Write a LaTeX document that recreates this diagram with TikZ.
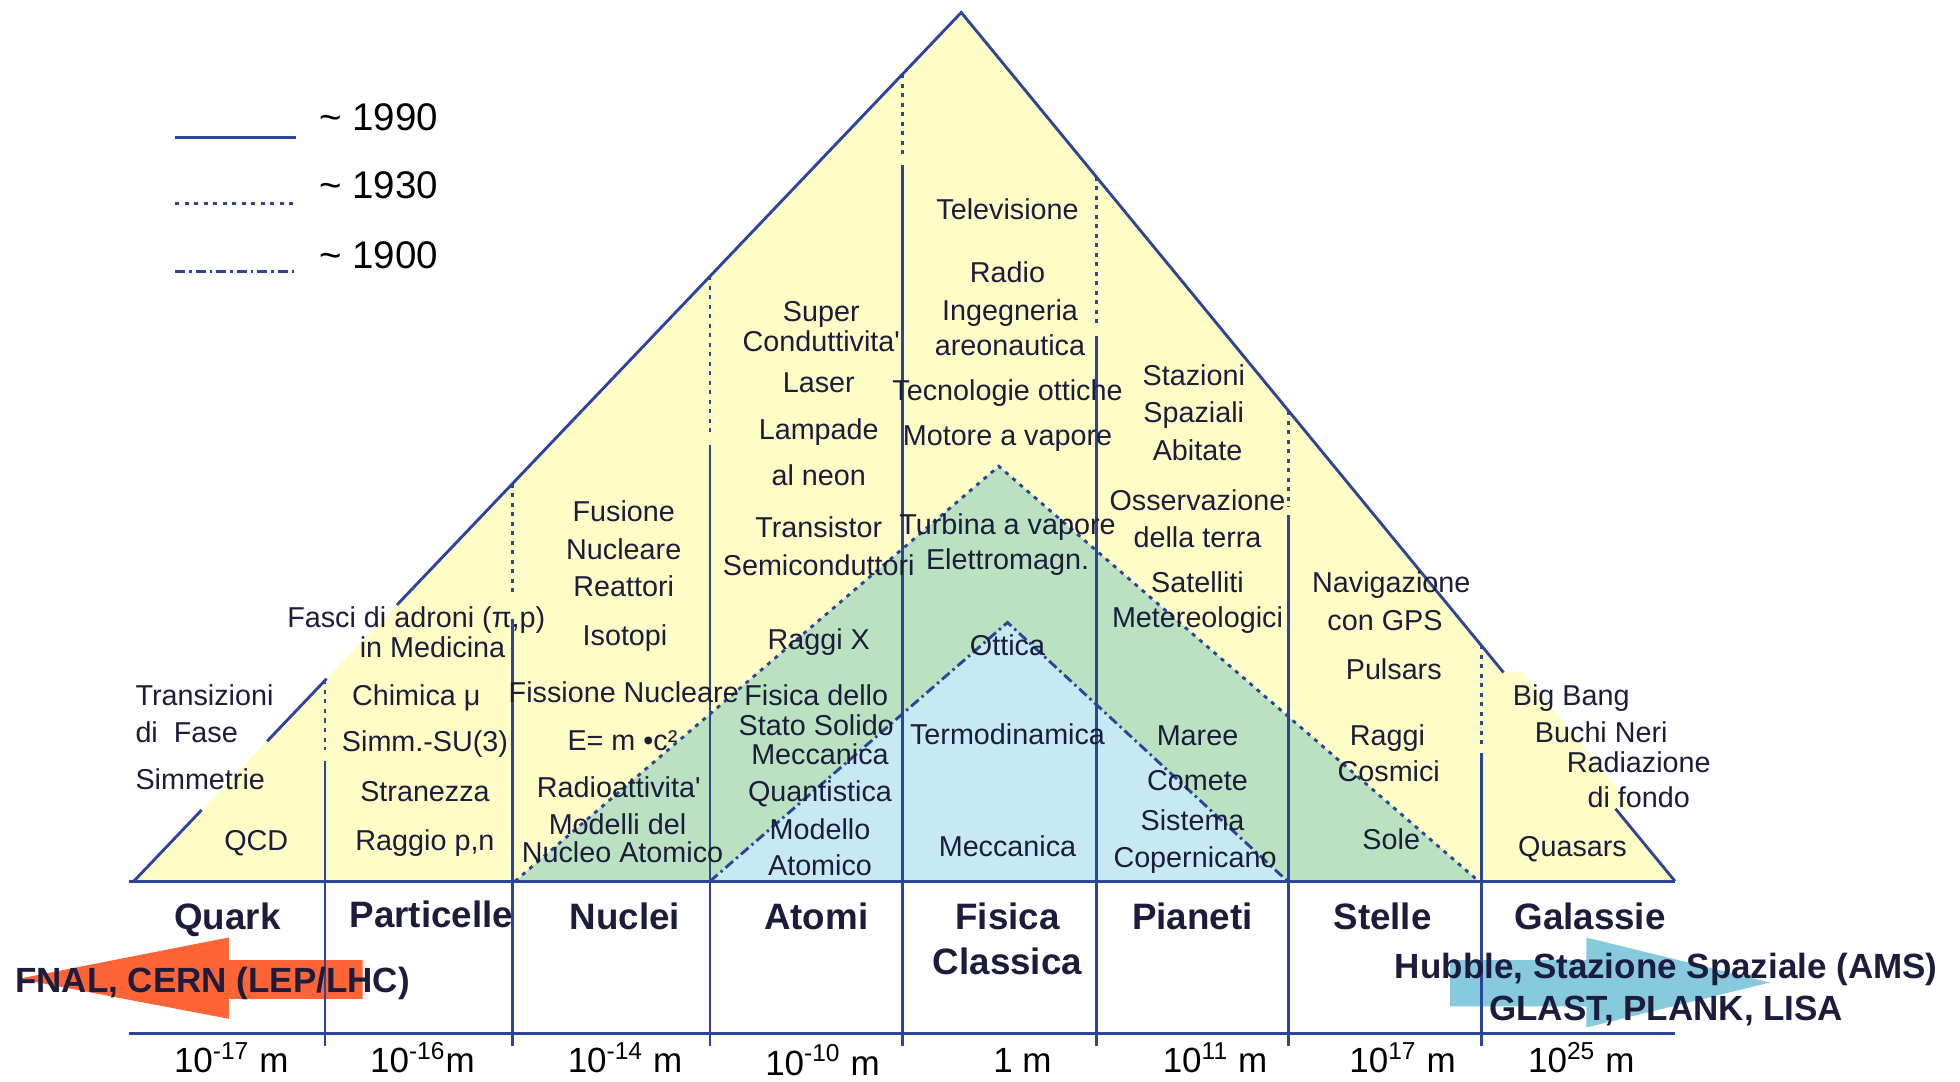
\documentclass[tikz,border=0pt]{standalone}
\usepackage{fontspec}
\setmainfont[Ligatures=TeXOff]{Liberation Sans}
\definecolor{ly}{RGB}{255,253,198}
\definecolor{lg}{RGB}{186,226,192}
\definecolor{lb}{RGB}{199,233,243}
\definecolor{ln}{RGB}{45,68,155}
\definecolor{tx}{RGB}{28,28,60}
\definecolor{arrred}{RGB}{255,100,55}
\definecolor{arrblue}{RGB}{135,202,222}
\begin{document}
\begin{tikzpicture}[x=0.5pt,y=-0.5pt,
  solidln/.style={draw=ln,line width=1.15pt},
  dotln/.style={draw=ln,line width=1.15pt,dash pattern=on 1.6pt off 2.2pt},
  dashdotln/.style={draw=ln,line width=1.15pt,dash pattern=on 4pt off 1.6pt on 1pt off 1.6pt},
  lab/.style={inner sep=0pt,text height=8.3pt,text depth=0pt,text=tx,font=\fontsize{11.5}{13}\selectfont},
  big/.style={inner sep=0pt,text height=10.6pt,text depth=0pt,text=tx,font=\fontsize{14.7}{17}\selectfont\bfseries},
  scl/.style={inner sep=0pt,text height=10pt,text depth=0pt,text=black,font=\fontsize{14}{16}\selectfont},
  leglbl/.style={inner sep=0pt,text height=11.1pt,text depth=0pt,text=black,font=\fontsize{15.4}{18}\selectfont,anchor=west},
  atxt/.style={inner sep=0pt,text height=10pt,text depth=0pt,text=tx,font=\fontsize{14}{16}\selectfont\bfseries}]
\useasboundingbox (0,0) rectangle (1568,865);
% fills
\coordinate (TL) at (107,705);
\coordinate (TT) at (769,10);
\coordinate (TR) at (1340,705);
\fill[ly] (TL) -- (TT) -- (TR) -- cycle;
\fill[ly] (1202.8,538) -- (1218,538) -- (1307,647) -- (1292.4,647) -- cycle;
\coordinate (GL) at (412,705);
\coordinate (GT) at (799,373);
\coordinate (GR) at (1183,705);
\fill[lg] (GL) -- (GT) -- (GR) -- cycle;
\coordinate (BL) at (568,705);
\coordinate (BT) at (806,498);
\coordinate (BR) at (1030,705);
\fill[lb] (BL) -- (BT) -- (BR) -- cycle;
\draw[dotln] (GL) -- (GT) -- (GR);
\draw[dashdotln] (BL) -- (BT) -- (BR);
% arrows
\fill[arrred] (15,783) -- (183,750) -- (183,768) -- (290,768) -- (290,799) -- (183,799) -- (183,815) -- cycle;
\fill[arrblue] (1160,768) -- (1269,768) -- (1269,750) -- (1416,786) -- (1269,822) -- (1269,805) -- (1160,805) -- cycle;
% verticals
\foreach \x/\a/\b/\c in {260/544.4/600/609, 410/386.9/478/495, 568/221/350/356, 722/59.3/127/132, 877/141.4/262/269, 1031/328.9/406/412, 1185/516.3/597/602} {
  \draw[dotln] (\x,\a) -- (\x,\b);
  \draw[solidln] (\x,\c) -- (\x,837);
}
% triangle outline and axes
\draw[solidln] (103,705) -- (1340,705);
\draw[solidln] (103,827) -- (1340,827);
\draw[solidln] (TL) -- (161.3,648);
\draw[solidln] (213.7,593) -- (261.3,543);
\draw[solidln] (317.5,484) -- (TT) -- (1202.8,538);
\draw[solidln] (1292.4,647) -- (TR);
% legend
\coordinate (l1a) at (140,110); \coordinate (l1b) at (237,110);
\coordinate (l2a) at (140,163); \coordinate (l2b) at (237,163);
\coordinate (l3a) at (140,217); \coordinate (l3b) at (237,217);
\draw[solidln] (l1a) -- (l1b);
\draw[dotln] (l2a) -- (l2b);
\draw[dashdotln] (l3a) -- (l3b);
\node[leglbl] (y1990) at (255,93) {\textasciitilde\ 1990};
\node[leglbl] (y1930) at (255,148) {\textasciitilde\ 1930};
\node[leglbl] (y1900) at (255,204) {\textasciitilde\ 1900};
% Quark
\node[lab,anchor=west] (q1) at (108,556) {Transizioni};
\node[lab,anchor=west] (q2) at (108,586) {di\ \ Fase};
\node[lab,anchor=west] (q3) at (108,623) {Simmetrie};
\node[lab] (q4) at (205,672) {QCD};
% Particelle
\node[lab] (p1) at (333,494) {Fasci di adroni (π,p)};
\node[lab] (p2) at (346,518) {in Medicina};
\node[lab] (p3) at (333,556) {Chimica μ};
\node[lab] (p4) at (340,593) {Simm.-SU(3)};
\node[lab] (p5) at (340,633) {Stranezza};
\node[lab] (p6) at (340,672) {Raggio p,n};
% Nuclei
\node[lab] (n1) at (499,409) {Fusione};
\node[lab] (n2) at (499,439) {Nucleare};
\node[lab] (n3) at (499,469) {Reattori};
\node[lab] (n4) at (500,508) {Isotopi};
\node[lab] (n5) at (499,554) {Fissione Nucleare};
\node[lab] (n6) at (498,592) {E= m •c²};
\node[lab] (n7) at (495,630) {Radioattivita'};
\node[lab] (n8) at (494,659) {Modelli del};
\node[lab] (n9) at (498,682) {Nucleo Atomico};
% Atomi
\node[lab] (a1) at (657,249) {Super};
\node[lab] (a2) at (657,273) {Conduttivita'};
\node[lab] (a3) at (655,306) {Laser};
\node[lab] (a4) at (655,343) {Lampade};
\node[lab] (a5) at (655,380) {al neon};
\node[lab] (a6) at (655,422) {Transistor};
\node[lab] (a7) at (655,452) {Semiconduttori};
\node[lab] (a8) at (655,511) {Raggi X};
\node[lab] (a9) at (653,556) {Fisica dello};
\node[lab] (a10) at (653,580) {Stato Solido};
\node[lab] (a11) at (656,603) {Meccanica};
\node[lab] (a12) at (656,633) {Quantistica};
\node[lab] (a13) at (656,663) {Modello};
\node[lab] (a14) at (656,692) {Atomico};
% Fisica classica
\node[lab] (f1) at (806,167) {Televisione};
\node[lab] (f2) at (806,218) {Radio};
\node[lab] (f3) at (808,248) {Ingegneria};
\node[lab] (f4) at (808,276) {areonautica};
\node[lab] (f5) at (806,312) {Tecnologie ottiche};
\node[lab] (f6) at (806,348) {Motore a vapore};
\node[lab] (f7) at (806,419) {Turbina a vapore};
\node[lab] (f8) at (806,447) {Elettromagn.};
\node[lab] (f9) at (806,516) {Ottica};
\node[lab] (f10) at (806,587) {Termodinamica};
\node[lab] (f11) at (806,677) {Meccanica};
% Pianeti
\node[lab] (pl1) at (955,300) {Stazioni};
\node[lab] (pl2) at (955,330) {Spaziali};
\node[lab] (pl3) at (958,360) {Abitate};
\node[lab] (pl4) at (958,400) {Osservazione};
\node[lab] (pl5) at (958,430) {della terra};
\node[lab] (pl6) at (958,466) {Satelliti};
\node[lab] (pl7) at (958,494) {Metereologici};
\node[lab] (pl8) at (958,588) {Maree};
\node[lab] (pl9) at (958,624) {Comete};
\node[lab] (pl10) at (954,656) {Sistema};
\node[lab] (pl11) at (956,686) {Copernicano};
% Stelle
\node[lab] (s1) at (1113,466) {Navigazione};
\node[lab] (s2) at (1108,496) {con GPS};
\node[lab] (s3) at (1115,535) {Pulsars};
\node[lab] (s4) at (1110,588) {Raggi};
\node[lab] (s5) at (1111,617) {Cosmici};
\node[lab] (s6) at (1113,671) {Sole};
% Galassie
\node[lab] (g1) at (1257,556) {Big Bang};
\node[lab] (g2) at (1281,586) {Buchi Neri};
\node[lab] (g3) at (1311,610) {Radiazione};
\node[lab] (g4) at (1311,638) {di fondo};
\node[lab] (g5) at (1258,677) {Quasars};
% category labels
\node[big] (cq) at (182,733) {Quark};
\node[big] (cp) at (345,731) {Particelle};
\node[big] (cn) at (500,733) {Nuclei};
\node[big] (ca) at (653,733) {Atomi};
\node[big] (cf) at (806,733) {Fisica};
\node[big] (cc) at (806,769) {Classica};
\node[big] (cpl) at (954,733) {Pianeti};
\node[big] (cs) at (1106,733) {Stelle};
\node[big] (cg) at (1272,733) {Galassie};
% arrow texts
\node[atxt] (fnal) at (170,784) {FNAL, CERN (LEP/LHC)};
\node[atxt] (hub) at (1333,773) {Hubble, Stazione Spaziale (AMS)};
\node[atxt] (glast) at (1333,806) {GLAST, PLANK, LISA};
% scale labels
\node[scl] (m1) at (185,848) {10\textsuperscript{-17} m};
\node[scl] (m2) at (338,848) {10\textsuperscript{-16}m};
\node[scl] (m3) at (500,848) {10\textsuperscript{-14} m};
\node[scl] (m4) at (658,850) {10\textsuperscript{-10} m};
\node[scl] (m5) at (818,848) {1 m};
\node[scl] (m6) at (972,848) {10\textsuperscript{11} m};
\node[scl] (m7) at (1122,848) {10\textsuperscript{17} m};
\node[scl] (m8) at (1265,848) {10\textsuperscript{25} m};
\end{tikzpicture}
\end{document}
